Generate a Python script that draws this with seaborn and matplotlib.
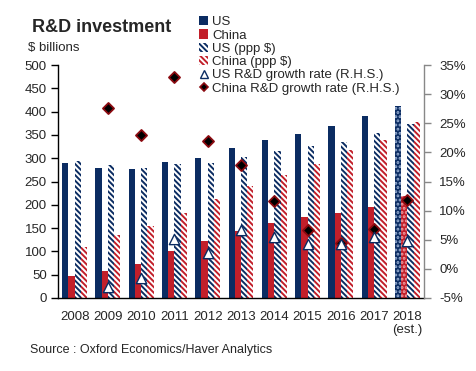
import numpy as np
import pandas as pd
import matplotlib.pyplot as plt
import seaborn as sns
from matplotlib.patches import Patch
from matplotlib.lines import Line2D

sns.set_theme(style="white")
plt.rcParams["font.family"] = ["Liberation Sans", "DejaVu Sans"]
plt.rcParams["hatch.linewidth"] = 1.4

NAVY = "#0B2C62"
RED = "#C21F2A"
DARKRED = "#8B0A10"

years = ["2008", "2009", "2010", "2011", "2012", "2013",
         "2014", "2015", "2016", "2017", "2018\n(est.)"]
us = [290, 280, 277, 292, 301, 321, 339, 353, 370, 391, 413]
china = [47, 59, 74, 100, 122, 144, 162, 173, 182, 195, 219]
us_ppp = [295, 285, 278, 288, 290, 303, 315, 326, 334, 355, 373]
china_ppp = [109, 135, 154, 182, 212, 241, 264, 288, 318, 339, 378]
us_growth = [np.nan, -3.1, -1.5, 5.2, 2.7, 6.6, 5.5, 4.3, 4.2, 5.5, 4.8]
china_growth = [np.nan, 27.7, 23.0, 32.9, 22.0, 17.9, 11.7, 6.6, 4.5, 6.8, 11.8]

series = ["US", "China", "US (ppp $)", "China (ppp $)"]
df = pd.DataFrame({
    "year": years * 4,
    "value": us + china + us_ppp + china_ppp,
    "series": [s for s in series for _ in years],
})

fig = plt.figure(figsize=(4.77, 3.71), dpi=100)
ax = fig.add_axes([58 / 477, 1 - 298 / 371, 366 / 477, 233 / 371])

sns.barplot(data=df, x="year", y="value", hue="series", hue_order=series,
            width=0.75, dodge=True, legend=False, ax=ax, saturation=1)

HATCH = "\\\\\\\\\\\\"
styles = [
    dict(fc=NAVY, ec=NAVY, hatch=None),
    dict(fc=RED, ec=RED, hatch=None),
    dict(fc="white", ec=NAVY, hatch=HATCH),
    dict(fc="white", ec=RED, hatch=HATCH),
]
for cont, st in zip(ax.containers, styles):
    for i, bar in enumerate(cont):
        bar.set_facecolor(st["fc"])
        bar.set_edgecolor(st["ec"])
        bar.set_linewidth(0)
        if st["hatch"]:
            bar.set_hatch(st["hatch"])
        if i == len(years) - 1 and st["hatch"] is None:
            # 2018 estimate shown with a dotted fill
            bar.set_edgecolor("#9DB3D6" if st["fc"] == NAVY else "#F0A0A5")
            bar.set_hatch("....")

ax.set_ylim(0, 500)
ax.set_yticks(range(0, 501, 50))
ax.set_xlim(-0.5, len(years) - 0.5)
ax.set_xlabel("")
ax.set_ylabel("")
ax.tick_params(axis="y", left=True, length=5, width=1, color="black",
               labelsize=9.5, pad=3)
ax.tick_params(axis="x", bottom=False, length=0, labelsize=9.5, pad=9)
for s in ["top", "right"]:
    ax.spines[s].set_visible(False)
for s in ["left", "bottom"]:
    ax.spines[s].set_color("black")
    ax.spines[s].set_linewidth(1)

ax2 = ax.twinx()
xpos = np.arange(len(years))
sns.scatterplot(x=xpos, y=china_growth, marker="D", color="black",
                edgecolor=DARKRED, s=32, linewidth=1.3, ax=ax2, zorder=5)
sns.scatterplot(x=xpos, y=us_growth, marker="^", color="white",
                edgecolor=NAVY, s=55, linewidth=1, ax=ax2, zorder=5)
ax2.set_ylim(-5, 35)
ax2.set_yticks(range(-5, 36, 5))
ax2.set_yticklabels([f"{v}%" for v in range(-5, 36, 5)])
ax2.set_xlim(-0.5, len(years) - 0.5)
ax2.tick_params(axis="y", right=True, length=5, width=1, color="#888888",
                labelsize=9.5, pad=6)
for s in ["top", "left", "bottom"]:
    ax2.spines[s].set_visible(False)
ax2.spines["right"].set_color("#888888")
ax2.spines["right"].set_linewidth(1)

handles = [
    Patch(facecolor=NAVY, edgecolor=NAVY, lw=0),
    Patch(facecolor=RED, edgecolor=RED, lw=0),
    Patch(facecolor="white", edgecolor=NAVY, hatch=HATCH, lw=0),
    Patch(facecolor="white", edgecolor=RED, hatch=HATCH, lw=0),
    Line2D([], [], ls="none", marker="^", mfc="white", mec=NAVY, ms=6, mew=1),
    Line2D([], [], ls="none", marker="D", mfc="black", mec=DARKRED, ms=4.5, mew=1.2),
]
labels = ["US", "China", "US (ppp $)", "China (ppp $)",
          "US R&D growth rate (R.H.S.)", "China R&D growth rate (R.H.S.)"]
fig.legend(handles, labels, loc="upper left", bbox_to_anchor=(199 / 477, 1 - 16 / 371),
           frameon=False, fontsize=9.5, handlelength=0.7, handleheight=0.7,
           handletextpad=0.3, labelspacing=0.08, borderpad=0, borderaxespad=0)

fig.text(32 / 477, 1 - 27 / 371, "R&D investment", fontsize=13,
         fontweight="bold", va="center", ha="left")
fig.text(28 / 477, 1 - 48 / 371, "$ billions", fontsize=9.5, va="center", ha="left")
fig.text(30 / 477, 1 - 350 / 371, "Source : Oxford Economics/Haver Analytics",
         fontsize=9, va="center", ha="left")

plt.savefig("out.png", dpi=100)
